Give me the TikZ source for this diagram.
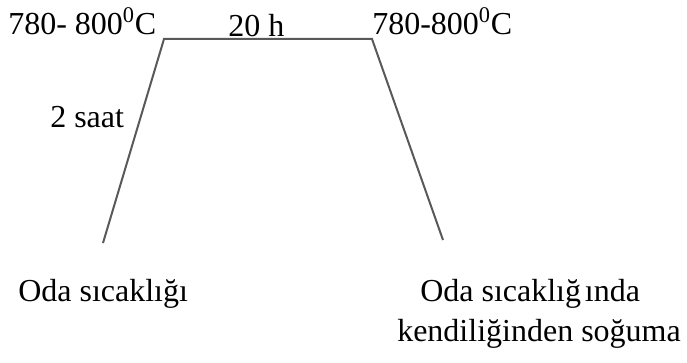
\documentclass[tikz,border=0pt]{standalone}
\usepackage{fontspec}
\setmainfont{Liberation Serif}
\begin{document}
\begin{tikzpicture}[x=0.75pt,y=-0.75pt,
  lbl/.style={anchor=base west,inner sep=0pt,font=\fontsize{24}{28}\selectfont},
  curve/.style={draw=black!65,line width=1.5pt,line join=miter}]
\useasboundingbox (0,0) rectangle (687,363);
\coordinate (p1) at (103,243);
\coordinate (p2) at (164,39);
\coordinate (p3) at (372,39);
\coordinate (p4) at (443,240);
\draw[curve] (p1) -- (p2) -- (p3) -- (p4);
\node[lbl] (t1) at (8,35) {780- 800\textsuperscript{0}C};
\node[lbl] (t2) at (228,37) {20 h};
\node[lbl] (t3) at (372,35) {780-800\textsuperscript{0}C};
\node[lbl] (t4) at (50,128) {2 saat};
\node[lbl] (t5) at (18,302) {Oda sıcaklığı};
\node[lbl] (t6) at (420,302) {Oda sıcaklığ\hspace{0.12em}ında};
\node[lbl] (t7) at (397,342) {kendiliğinden soğuma};
\end{tikzpicture}
\end{document}
